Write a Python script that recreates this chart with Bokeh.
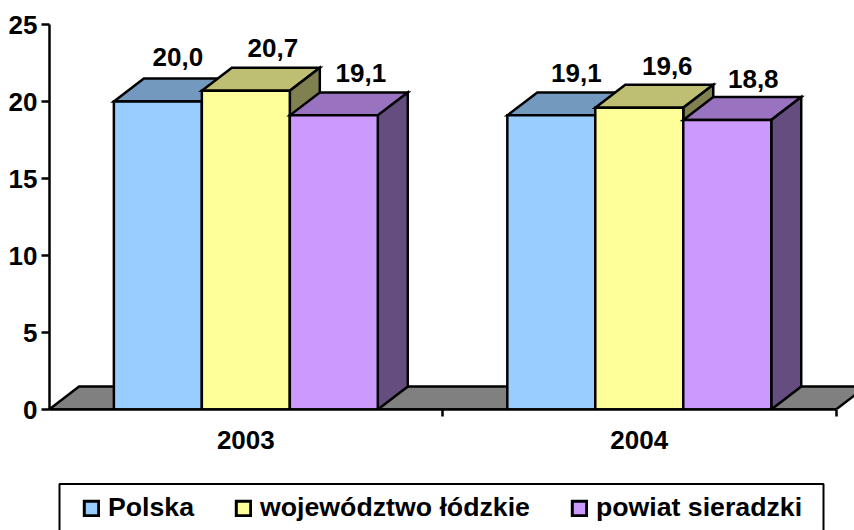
from bokeh.plotting import figure
from bokeh.layouts import column
from bokeh.models import ColumnDataSource, FixedTicker, Legend, LegendItem, LinearAxis, Range1d
from bokeh.embed import file_html
from bokeh.resources import INLINE
from bokeh.core.properties import value

years = ["2003", "2004"]
series_names = ["Polska", "województwo łódzkie", "powiat sieradzki"]
polska = [20.0, 19.1]
lodzkie = [20.7, 19.6]
sieradzki = [19.1, 18.8]
y_ticks = [0, 5, 10, 15, 20, 25]

FONT = "Liberation Sans"
FS = "26px"
FRONT = ["#99CCFF", "#FFFF99", "#CC99FF"]
TOP = ["#7399BF", "#BFBF73", "#9973BF"]
SIDE = ["#4D6680", "#808050", "#664D80"]
BAR_W = 0.2236
DX = 0.0762
DY = 1.49
LW = 2.5

p = figure(width=854, height=475, output_backend="svg", toolbar_location=None,
           x_range=Range1d(0.001, 2.047), y_range=Range1d(0, 26.04),
           x_axis_type=None, y_axis_type=None,
           min_border_left=49, min_border_right=0, min_border_top=8, min_border_bottom=66)
p.outline_line_color = None
p.background_fill_color = "white"
p.border_fill_color = "white"

# floor
p.patch([0, DX, 2 + DX, 2], [0, DY, DY, 0], fill_color="#808080", line_color="black", line_width=LW,
        line_join="miter")

all_series = [polska, lodzkie, sieradzki]
for g in range(len(years)):
    for s, vals in enumerate(all_series):
        v = vals[g]
        left = g + 0.5 + (s - 1.5) * BAR_W
        right = left + BAR_W
        p.patch([left, left + DX, right + DX, right], [v, v + DY, v + DY, v],
                fill_color=TOP[s], line_color="black", line_width=LW, line_join="miter")
        p.patch([right, right + DX, right + DX, right], [0, DY, v + DY, v],
                fill_color=SIDE[s], line_color="black", line_width=LW, line_join="miter")
        p.quad(left=[left], right=[right], bottom=[0], top=[v],
               fill_color=FRONT[s], line_color="black", line_width=LW, line_join="miter")

# data labels
label_x = []
label_y = []
label_t = []
for s, vals in enumerate(all_series):
    for g, v in enumerate(vals):
        label_x.append(g + 0.5 + (s - 1) * BAR_W)
        label_y.append(v + DY)
        label_t.append(f"{v:.1f}".replace(".", ","))
nudge_x = [20, 25, 27, 28, 27, 26]
nudge_y = [-22, -19, -20, -19, -19, -18]
src = ColumnDataSource(dict(x=label_x, y=label_y, t=label_t, ox=nudge_x, oy=nudge_y))
p.text("x", "y", text="t", source=src, x_offset="ox", y_offset="oy",
       text_font=value(FONT), text_font_size=value(FS), text_font_style="bold",
       text_align="center", text_baseline="alphabetic", text_color="black")

yax = LinearAxis(ticker=FixedTicker(ticks=y_ticks), bounds=(0, 25))
yax.axis_line_width = LW
yax.major_tick_line_width = LW
yax.major_tick_out = 8
yax.major_tick_in = 0
yax.minor_tick_out = 0
yax.minor_tick_in = 0
yax.major_label_standoff = 4
yax.major_label_text_font = FONT
yax.major_label_text_font_size = FS
yax.major_label_text_font_style = "bold"
yax.major_label_text_color = "black"
p.add_layout(yax, "left")

xax = LinearAxis(ticker=FixedTicker(ticks=[0.5, 1.5], minor_ticks=[0, 1, 2]), bounds=(0, 2),
                 major_label_overrides={0.5: years[0], 1.5: years[1]})
xax.axis_line_width = LW
xax.major_tick_out = 0
xax.major_tick_in = 0
xax.minor_tick_out = 7
xax.minor_tick_in = 0
xax.minor_tick_line_width = LW
xax.major_label_standoff = 14
xax.major_label_text_font = FONT
xax.major_label_text_font_size = FS
xax.major_label_text_font_style = "bold"
xax.major_label_text_color = "black"
p.add_layout(xax, "below")

# legend strip: the column aligns this frame with the chart's, so x runs from 49 in page pixels
p2 = figure(width=854, height=55, output_backend="svg", toolbar_location=None,
            x_range=Range1d(49, 854), y_range=Range1d(55, 0),
            x_axis_type=None, y_axis_type=None,
            min_border_left=49, min_border_right=0, min_border_top=0, min_border_bottom=0)
p2.outline_line_color = None
p2.grid.visible = False
p2.quad(left=[59], right=[823], top=[8.5], bottom=[80], fill_color="white", line_color="black", line_width=2)
items = []
for s, name in enumerate(series_names):
    q = p2.quad(left=[float("nan")], right=[float("nan")], top=[float("nan")], bottom=[float("nan")],
                fill_color=FRONT[s], line_color="black", line_width=3, line_join="miter")
    items.append(LegendItem(label=name, renderers=[q]))
legend = Legend(items=items, orientation="horizontal", location=(33, 7),
                glyph_width=18, glyph_height=18, label_standoff=8, spacing=40,
                padding=0, margin=0, border_line_color=None, background_fill_alpha=0,
                label_text_font=FONT, label_text_font_size="26.7px", label_text_font_style="bold",
                label_text_color="black")
p2.add_layout(legend, "center")

open("out.html", "w").write(file_html(column(p, p2, spacing=0), INLINE))
